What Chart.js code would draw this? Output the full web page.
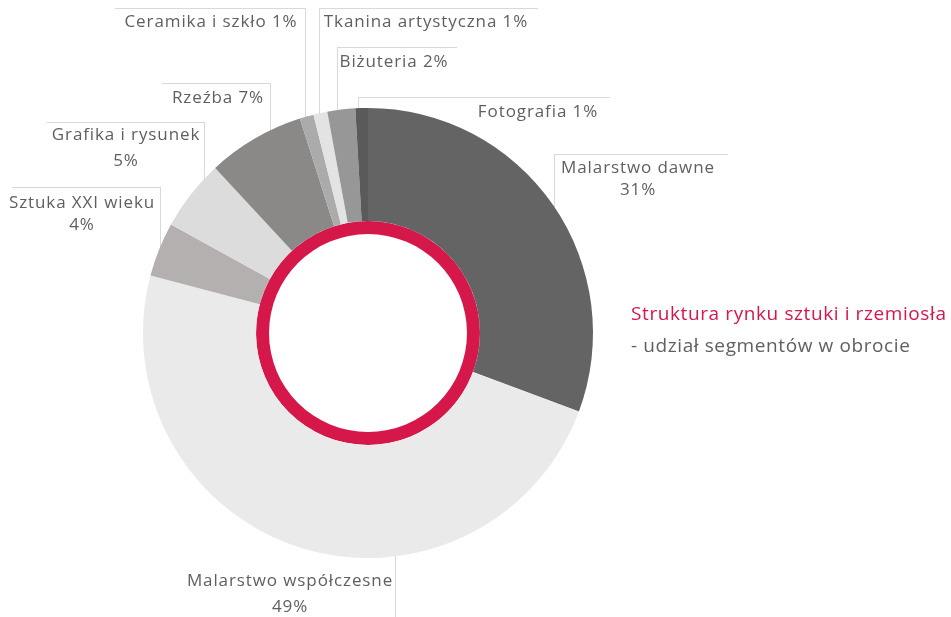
<!DOCTYPE html>
<html>
<head>
<meta charset="utf-8">
<script src="https://cdn.jsdelivr.net/npm/chart.js@4"></script>
<style>
  html, body { margin: 0; padding: 0; background: #fff; }
  #wrap { width: 951px; height: 617px; position: relative; }
</style>
</head>
<body>
<div id="wrap"><canvas id="myChart" width="951" height="617"></canvas></div>
<script>
let categories = ["Malarstwo dawne", "Malarstwo współczesne", "Sztuka XXI wieku", "Grafika i rysunek",
  "Rzeźba", "Ceramika i szkło", "Tkanina artystyczna", "Biżuteria", "Fotografia"];
let shares = [30.7, 48.5, 3.9, 5.1, 7.0, 1.0, 1.0, 2.0, 0.9];
let shareLabels = ["31%", "49%", "4%", "5%", "7%", "1%", "1%", "2%", "1%"];
let sliceColors = ["#646464", "#eaeaea", "#b4b0af", "#dcdcdc", "#8a8988", "#ababab", "#e3e3e3", "#979797", "#5a5a5a"];

// label boxes: text lines, text centre x, line middles y, top rule y, rule x1..x2, side rule x
let labelLayout = [
  { lines: 2, cx: 638, ys: [168, 190], top: 154, x1: 554, x2: 728, side: 554 },
  { lines: 2, cx: 290, ys: [581, 607], top: null, x1: 0, x2: 0, side: 395 },
  { lines: 2, cx: 82, ys: [203, 225], top: 187, x1: 12, x2: 160, side: 160 },
  { lines: 2, cx: 126, ys: [135, 161], top: 122, x1: 47, x2: 204, side: 204 },
  { lines: 1, cx: 218, ys: [98], top: 83, x1: 162, x2: 270, side: 270 },
  { lines: 1, cx: 211, ys: [22], top: 8, x1: 115, x2: 305, side: 305 },
  { lines: 1, cx: 426, ys: [22], top: 8, x1: 319, x2: 538, side: 319 },
  { lines: 1, cx: 394, ys: [62], top: 47, x1: 337, x2: 457, side: 337 },
  { lines: 1, cx: 538, ys: [112], top: 97, x1: 358, x2: 610, side: 358 }
];

const FONT = '17px "Open Sans", "DejaVu Sans", sans-serif';
const TEXT_COLOR = '#5f5f5f';

const calloutPlugin = {
  id: 'callouts',
  beforeDatasetsDraw(chart) {
    const arc = chart.getDatasetMeta(0).data[0];
    const cx = arc.x, cy = arc.y, r = arc.outerRadius;
    const ctx = chart.ctx;
    ctx.save();
    ctx.strokeStyle = '#d9d9d9';
    ctx.lineWidth = 1;
    labelLayout.forEach((l) => {
      ctx.beginPath();
      const dx = l.side - cx;
      const dy = Math.sqrt(Math.max(r * r - dx * dx, 0));
      if (l.top === null) {
        ctx.moveTo(l.side + 0.5, chart.height);
        ctx.lineTo(l.side + 0.5, cy + dy - 4);
      } else {
        ctx.moveTo(l.x1, l.top + 0.5);
        ctx.lineTo(l.x2, l.top + 0.5);
        ctx.moveTo(l.side + 0.5, l.top);
        ctx.lineTo(l.side + 0.5, cy - dy + 4);
      }
      ctx.stroke();
    });
    ctx.restore();
  },
  afterDraw(chart) {
    const ctx = chart.ctx;
    ctx.save();
    ctx.font = FONT;
    ctx.letterSpacing = '0.9px';
    ctx.fillStyle = TEXT_COLOR;
    ctx.textAlign = 'center';
    ctx.textBaseline = 'middle';
    labelLayout.forEach((l, i) => {
      const texts = l.lines === 2
        ? [categories[i], shareLabels[i]]
        : [categories[i] + ' ' + shareLabels[i]];
      texts.forEach((t, k) => ctx.fillText(t, l.cx, l.ys[k]));
    });
    // side title
    ctx.textAlign = 'left';
    ctx.font = '19px "Open Sans", "DejaVu Sans", sans-serif';
    ctx.letterSpacing = '0.6px';
    ctx.fillStyle = '#d6174a';
    ctx.fillText('Struktura rynku sztuki i rzemiosła', 631, 315);
    ctx.fillStyle = TEXT_COLOR;
    ctx.fillText('- udział segmentów w obrocie', 631, 347);
    ctx.restore();
  }
};

new Chart("myChart", {
  type: "doughnut",
  data: {
    labels: categories,
    datasets: [
      { data: shares, backgroundColor: sliceColors, borderWidth: 0, weight: 113 },
      { data: [100], backgroundColor: ["#d6174a"], borderWidth: 0, weight: 13 }
    ]
  },
  options: {
    responsive: false,
    animation: false,
    cutout: '44%',
    layout: { padding: { left: 143, top: 108, right: 358, bottom: 59 } },
    plugins: {
      legend: { display: false },
      tooltip: { enabled: false }
    }
  },
  plugins: [calloutPlugin]
});
</script>
</body>
</html>
